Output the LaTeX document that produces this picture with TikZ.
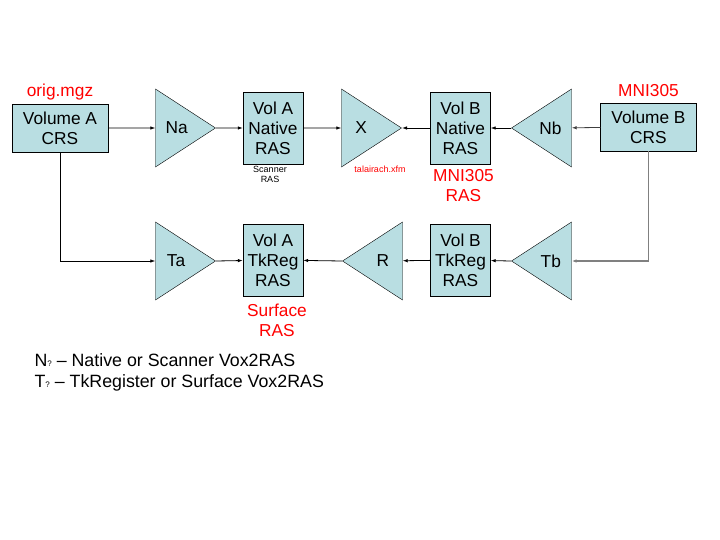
\documentclass[tikz,border=0pt]{standalone}
\usepackage{fontspec}
\setmainfont{Liberation Sans}
\usetikzlibrary{positioning,shapes.geometric,arrows.meta}
\definecolor{volfill}{RGB}{185,222,226}
\begin{document}
\begin{tikzpicture}[x=1pt,y=-1pt,
    font=\fontsize{17.3}{20}\selectfont,
    vol/.style={draw,fill=volfill,align=center,inner sep=0pt,minimum width=60pt,minimum height=72pt},
    crs/.style={vol,minimum width=96pt,minimum height=48pt},
    xform/.style={draw,fill=volfill,isosceles triangle,isosceles triangle stretches,
        minimum width=78pt,minimum height=60pt,inner sep=0pt},
    back/.style={xform,shape border rotate=180},
    tag/.style={text=red,align=center},
    note/.style={font=\fontsize{9}{10}\selectfont,align=center},
    conn/.style={-{Latex[length=5pt,width=3.5pt]},line width=0.8pt}]
    \useasboundingbox (0,0) rectangle (720,540);
    \node[crs] (volA) at (60,128) {Volume A\\CRS};
    \node[xform,anchor=apex] (Na) at (216,128) {Na};
    \node[vol] (natA) at (273,128) {Vol A\\Native\\RAS};
    \node[xform,anchor=apex] (X) at (402,128) {X};
    \node[vol] (natB) at (460.5,128) {Vol B\\Native\\RAS};
    \node[back,anchor=apex] (Nb) at (511,128) {Nb};
    \node[crs] (volB) at (648.5,127) {Volume B\\CRS};
    \node[xform,anchor=apex] (Ta) at (216,261) {Ta};
    \node[vol] (tkA) at (273,260) {Vol A\\TkReg\\RAS};
    \node[back,anchor=apex] (R) at (342,261) {R};
    \node[vol] (tkB) at (460.5,260) {Vol B\\TkReg\\RAS};
    \node[back,anchor=apex] (Tb) at (511,261) {Tb};
    \node[tag,above=0pt of volA] (orig) {orig.mgz};
    \node[tag,above=3pt of volB] (mni) {MNI305};
    \node[tag,below=2pt of natB,xshift=3pt] (mniras) {MNI305\\RAS};
    \node[tag,below=4pt of tkA,xshift=4pt] (surf) {Surface\\RAS};
    \node[note,below=-2pt of natA,xshift=-3pt] (scan) {Scanner\\RAS};
    \node[note,text=red] (tal) at (380,169) {talairach.xfm};
    \draw[conn] (volA) -- (Na);
    \draw[conn] (Na) -- (natA);
    \draw[conn] (natA) -- (X);
    \draw[conn] (natB) -- (X.apex);
    \draw[conn] (Nb.apex) -- (natB);
    \draw[conn,draw=black!75] (volB) -- (Nb);
    \draw[conn] (volA) |- (Ta);
    \draw[conn] (Ta.apex) -- (tkA);
    \draw[conn] (R.apex) -- (tkA);
    \draw[conn] (tkB) -- (R);
    \draw[conn] (Tb.apex) -- (tkB);
    \draw[conn,draw=black!50,line width=1.3pt] (volB) |- (Tb);
    \node[anchor=base west,align=left,font=\fontsize{17.8}{20}\selectfont] (key) at (31,387)
        {N{\fontsize{8}{8}\selectfont ?} -- Native or Scanner Vox2RAS\\[1pt]
         T{\fontsize{8}{8}\selectfont ?} -- TkRegister or Surface Vox2RAS};
\end{tikzpicture}
\end{document}
